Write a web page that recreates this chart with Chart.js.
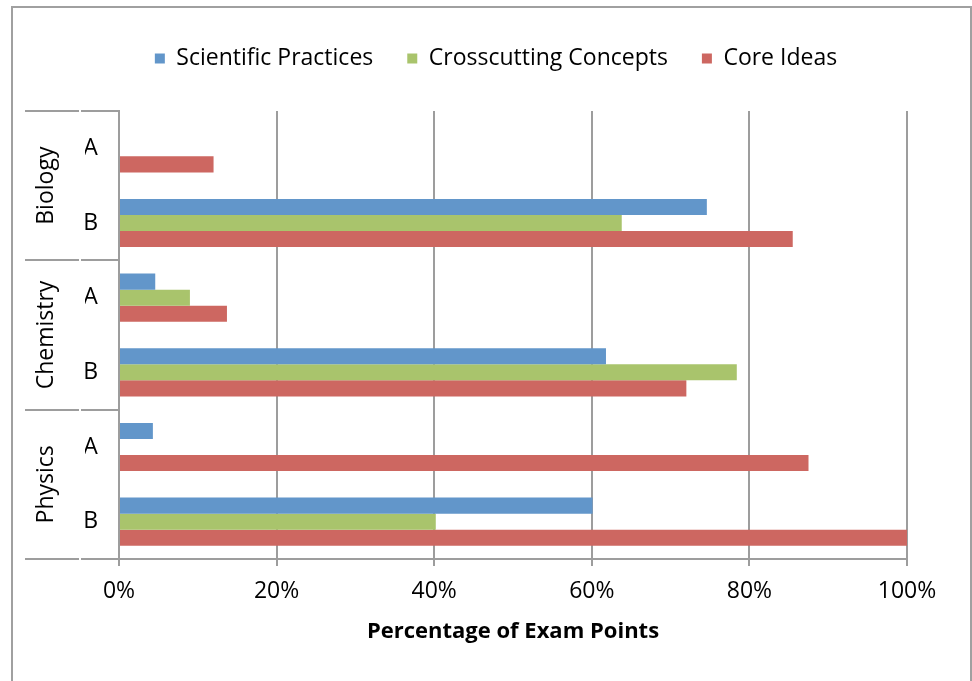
<html>
  <head>
   <title>Exam Points</title>
   <script src="https://cdn.jsdelivr.net/npm/chart.js@4.4.0/dist/chart.umd.min.js"></script>
   <style>
    body{
      margin:0;
      overflow:hidden;
      background:#fff;
    }
    #frame{
      position:absolute;
      left:11px;
      top:6px;
      width:957px;
      height:720px;
      border:2px solid #a0a0a0;
      pointer-events:none;
    }
    #box{
      position:absolute;
      left:0;
      top:0;
      width:972px;
      height:681px;
    }
   </style>
  </head>

  <body>
    <div id="box"><canvas id="bar-chart"></canvas></div>
    <div id="frame"></div>
  </body>

  <script>
    // data
    var labels = ["A", "B", "A", "B", "A", "B"];
    var groups = ["Biology", "Chemistry", "Physics"];
    var practices = [0, 74.6, 4.6, 61.8, 4.3, 60.1];
    var crosscutting = [0, 63.8, 9.0, 78.4, 0, 40.2];
    var coreIdeas = [12.0, 85.5, 13.7, 72.0, 87.5, 100];
    var xTicks = [0, 20, 40, 60, 80, 100];

    var font = "Open Sans";
    var grey = "#9d9d9d";

    // draws the outer level of the category axis (subject names + separators)
    var groupAxis = {
      id: "groupAxis",
      afterDraw: function(chart){
        var ctx = chart.ctx;
        var y = chart.scales.y;
        var step = y.getPixelForValue(1) - y.getPixelForValue(0);
        ctx.save();
        ctx.strokeStyle = grey;
        ctx.lineWidth = 2;
        for (var g = 0; g <= groups.length; g++){
          var py = Math.round(y.getPixelForValue(g * 2) - step / 2);
          ctx.beginPath();
          ctx.moveTo(25, py); ctx.lineTo(79, py);
          ctx.moveTo(81, py); ctx.lineTo(chart.chartArea.left, py);
          ctx.stroke();
        }
        ctx.fillStyle = "#000";
        ctx.font = "23px '" + font + "'";
        ctx.textAlign = "center";
        ctx.textBaseline = "middle";
        for (var i = 0; i < groups.length; i++){
          var cy = y.getPixelForValue(i * 2) + step / 2;
          ctx.save();
          ctx.translate(46, cy);
          ctx.rotate(-Math.PI / 2);
          ctx.fillText(groups[i], 0, 0);
          ctx.restore();
        }
        ctx.restore();
      }
    };

    new Chart(document.getElementById("bar-chart"), {
      type: "bar",
      data: {
        labels: labels,
        datasets: [
          { label: "Scientific Practices", data: practices, backgroundColor: "#6296ca" },
          { label: "Crosscutting Concepts", data: crosscutting, backgroundColor: "#a9c46c" },
          { label: "Core Ideas", data: coreIdeas, backgroundColor: "#cd6761" }
        ]
      },
      options: {
        indexAxis: "y",
        responsive: true,
        maintainAspectRatio: false,
        animation: false,
        categoryPercentage: 0.645,
        barPercentage: 1.0,
        layout: { padding: { left: 85, right: 65, top: 13, bottom: 32 } },
        plugins: {
          legend: {
            position: "top",
            labels: {
              font: { family: font, size: 23 },
              color: "#000",
              boxWidth: 10,
              boxHeight: 10,
              padding: 34
            }
          },
          tooltip: { enabled: false }
        },
        scales: {
          x: {
            min: 0,
            max: 100,
            afterBuildTicks: function(scale){
              scale.ticks = xTicks.map(function(v){ return { value: v }; });
            },
            afterFit: function(scale){ scale.height = 90; },
            grid: { color: grey, lineWidth: 2, tickLength: 7 },
            border: { color: grey, width: 2 },
            ticks: {
              font: { family: font, size: 23 },
              color: "#000",
              padding: 12,
              callback: function(v){ return v + "%"; }
            },
            title: {
              display: true,
              text: "Percentage of Exam Points",
              font: { family: font, size: 22, weight: "bold" },
              color: "#000",
              padding: { top: 0, bottom: 4 }
            }
          },
          // empty spacer between legend and plot
          gap: {
            type: "linear",
            position: "top",
            afterFit: function(scale){ scale.height = 31; },
            grid: { display: false },
            border: { display: false },
            ticks: { display: false }
          },
          y: {
            afterFit: function(scale){ scale.width = 34; },
            grid: { display: false, drawTicks: false },
            border: { color: grey, width: 2 },
            ticks: {
              font: { family: font, size: 23 },
              color: "#000",
              crossAlign: "center",
              padding: 21
            }
          }
        }
      },
      plugins: [groupAxis]
    });
  </script>
</html>
